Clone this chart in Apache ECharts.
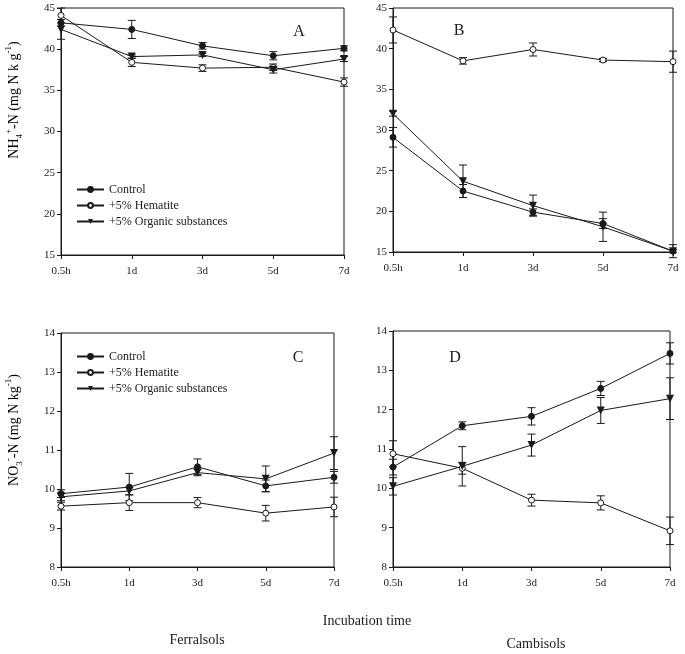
<!DOCTYPE html>
<html><head><meta charset="utf-8">
<script src="https://cdn.jsdelivr.net/npm/echarts@6/dist/echarts.min.js"></script>
<style>html,body{margin:0;padding:0;background:#fff}#c{width:685px;height:654px}</style>
</head><body><div id="c"></div>
<script>
const categories = ['0.5h', '1d', '3d', '5d', '7d'];
const seriesNames = ['Control', '+5% Hematite', '+5% Organic substances'];

// Panel A: NH4+-N, Ferralsols
const aControl = [43.2, 42.4, 40.4, 39.2, 40.1];
const aControlErr = [0.4, 1.1, 0.4, 0.5, 0.3];
const aHematite = [44.1, 38.4, 37.7, 37.8, 36.0];
const aHematiteErr = [0.9, 0.5, 0.4, 0.4, 0.5];
const aOrganic = [42.4, 39.1, 39.3, 37.5, 38.8];
const aOrganicErr = [1.2, 0.2, 0.2, 0.4, 0.3];

// Panel B: NH4+-N, Cambisols
const bControl = [29.1, 22.5, 19.9, 18.5, 15.1];
const bControlErr = [1.2, 0.8, 0.4, 0.6, 0.2];
const bHematite = [42.3, 38.5, 39.9, 38.6, 38.4];
const bHematiteErr = [1.6, 0.4, 0.8, 0.2, 1.3];
const bOrganic = [32.0, 23.7, 20.7, 18.1, 15.1];
const bOrganicErr = [0.3, 2.0, 1.3, 1.8, 0.8];

// Panel C: NO3--N, Ferralsols
const cControl = [9.88, 10.05, 10.57, 10.08, 10.3];
const cControlErr = [0.1, 0.35, 0.2, 0.15, 0.15];
const cHematite = [9.56, 9.65, 9.65, 9.38, 9.54];
const cHematiteErr = [0.1, 0.2, 0.13, 0.2, 0.25];
const cOrganic = [9.8, 9.95, 10.42, 10.26, 10.92];
const cOrganicErr = [0.1, 0.1, 0.08, 0.33, 0.42];

// Panel D: NO3--N, Cambisols
const dControl = [10.54, 11.59, 11.83, 12.54, 13.43];
const dControlErr = [0.2, 0.1, 0.22, 0.18, 0.27];
const dHematite = [10.88, 10.51, 9.7, 9.63, 8.92];
const dHematiteErr = [0.33, 0.15, 0.15, 0.18, 0.35];
const dOrganic = [10.05, 10.56, 11.1, 11.98, 12.28];
const dOrganicErr = [0.22, 0.5, 0.28, 0.33, 0.53];

const nhTicks = {min: 15, max: 45, interval: 5};
const noTicks = {min: 8, max: 14, interval: 1};

const FONT = '"Liberation Serif", "Times New Roman", serif';
const INK = '#1a1a1a';

const grids = [
  {left: 61, top: 8, width: 283, height: 247},
  {left: 393, top: 8, width: 280, height: 244},
  {left: 61, top: 333, width: 273, height: 234},
  {left: 393, top: 331, width: 277, height: 236}
];

const panels = [
  {vals: [aControl, aHematite, aOrganic], errs: [aControlErr, aHematiteErr, aOrganicErr], ticks: nhTicks},
  {vals: [bControl, bHematite, bOrganic], errs: [bControlErr, bHematiteErr, bOrganicErr], ticks: nhTicks},
  {vals: [cControl, cHematite, cOrganic], errs: [cControlErr, cHematiteErr, cOrganicErr], ticks: noTicks},
  {vals: [dControl, dHematite, dOrganic], errs: [dControlErr, dHematiteErr, dOrganicErr], ticks: noTicks}
];

const symbols = [
  {symbol: 'circle', symbolSize: 6, symbolRotate: 0, itemStyle: {color: INK, borderColor: INK, borderWidth: 1}},
  {symbol: 'circle', symbolSize: 6, symbolRotate: 0, itemStyle: {color: '#fff', borderColor: INK, borderWidth: 1}},
  {symbol: 'triangle', symbolSize: 8, symbolRotate: 180, itemStyle: {color: INK, borderColor: INK, borderWidth: 0}}
];

function errRender(params, api) {
  const x = api.value(0), lo = api.value(1), hi = api.value(2);
  const p1 = api.coord([x, lo]), p2 = api.coord([x, hi]);
  const w = 4;
  const st = {stroke: INK, lineWidth: 1};
  return {type: 'group', children: [
    {type: 'line', shape: {x1: p1[0], y1: p1[1], x2: p2[0], y2: p2[1]}, style: st},
    {type: 'line', shape: {x1: p1[0] - w, y1: p1[1], x2: p1[0] + w, y2: p1[1]}, style: st},
    {type: 'line', shape: {x1: p2[0] - w, y1: p2[1], x2: p2[0] + w, y2: p2[1]}, style: st}
  ]};
}

const xAxis = [], yAxis = [], series = [];
grids.forEach((g, i) => {
  xAxis.push({
    type: 'category', gridIndex: i, data: categories, boundaryGap: false,
    axisLine: {lineStyle: {color: INK, width: 1}},
    axisTick: {show: true, inside: false, length: 4, lineStyle: {color: INK}},
    axisLabel: {color: INK, fontFamily: FONT, fontSize: 11, margin: 11},
    splitLine: {show: false}
  });
  const t = panels[i].ticks;
  yAxis.push({
    type: 'value', gridIndex: i, min: t.min, max: t.max, interval: t.interval,
    axisLine: {show: true, lineStyle: {color: INK, width: 1}},
    axisTick: {show: true, inside: false, length: 4, lineStyle: {color: INK}},
    axisLabel: {color: INK, fontFamily: FONT, fontSize: 11, margin: 6},
    splitLine: {show: false}
  });
  panels[i].vals.forEach((vals, k) => {
    const errs = panels[i].errs[k];
    series.push({
      type: 'custom', xAxisIndex: i, yAxisIndex: i, renderItem: errRender, clip: false, z: 1,
      encode: {x: 0, y: [1, 2]},
      data: vals.map((v, j) => [j, v - errs[j], v + errs[j]]),
      silent: true
    });
    series.push(Object.assign({
      type: 'line', name: seriesNames[k], xAxisIndex: i, yAxisIndex: i,
      data: vals, showAllSymbol: true, clip: false, z: 3,
      lineStyle: {color: INK, width: 1}
    }, symbols[k]));
  });
});

const legendCommon = {
  orient: 'vertical', itemWidth: 27, itemHeight: 6, itemGap: 3, padding: 0,
  data: seriesNames,
  textStyle: {color: INK, fontFamily: FONT, fontSize: 12, lineHeight: 13, padding: [0, 0, 0, 0]},
  selectedMode: false
};

const yTitleRich = {
  a: {fontFamily: FONT, fontSize: 14, color: INK, lineHeight: 20},
  sub: {fontFamily: FONT, fontSize: 9, color: INK, verticalAlign: 'bottom', lineHeight: 10},
  sup: {fontFamily: FONT, fontSize: 9, color: INK, verticalAlign: 'top', lineHeight: 10}
};

const letter = (txt, x, y) => ({type: 'text', x: x, y: y,
  style: {text: txt, fontFamily: FONT, fontSize: 16, fill: INK, align: 'center', verticalAlign: 'middle'}});
const label = (txt, x, y) => ({type: 'text', x: x, y: y,
  style: {text: txt, fontFamily: FONT, fontSize: 14, fill: INK, align: 'center', verticalAlign: 'middle'}});

const option = {
  backgroundColor: '#fff',
  animation: false,
  grid: grids.map(g => Object.assign({show: true, borderColor: INK, borderWidth: 1, backgroundColor: 'transparent'}, g)),
  xAxis: xAxis,
  yAxis: yAxis,
  series: series,
  legend: [
    Object.assign({left: 76, top: 183}, legendCommon),
    Object.assign({left: 76, top: 350}, legendCommon)
  ],
  graphic: [
    letter('A', 299, 32), letter('B', 459, 31), letter('C', 298, 358), letter('D', 455, 358),
    label('Incubation time', 367, 621), label('Ferralsols', 197, 640), label('Cambisols', 536, 644),
    {type: 'text', x: 14, y: 100, rotation: Math.PI / 2,
      style: {text: '{a|NH}{sub|4}{sup|+}{a|-N (mg N k g}{sup|-1}{a|)}', rich: yTitleRich, align: 'center', verticalAlign: 'middle'}},
    {type: 'text', x: 14, y: 430, rotation: Math.PI / 2,
      style: {text: '{a|NO}{sub|3}{sup|-}{a|-N (mg N kg}{sup|-1}{a|)}', rich: yTitleRich, align: 'center', verticalAlign: 'middle'}}
  ]
};

const chart = echarts.init(document.getElementById('c'), null, {renderer: 'canvas'});
chart.setOption(option);
</script></body></html>
